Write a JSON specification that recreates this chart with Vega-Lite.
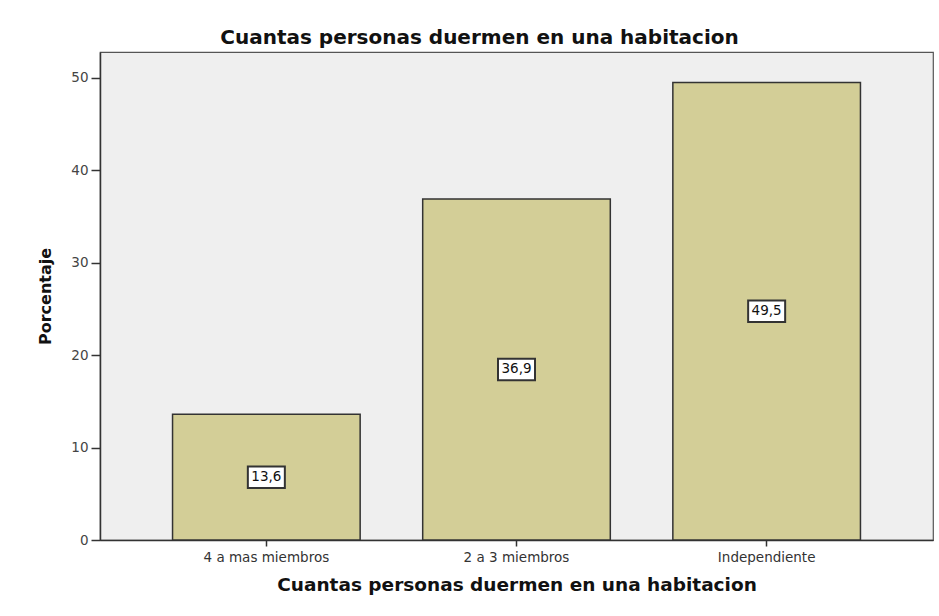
{
  "$schema": "https://vega.github.io/schema/vega-lite/v6.json",
  "width": 833,
  "height": 488,
  "autosize": {"type": "none"},
  "padding": {"left": 100, "top": 52, "right": 6, "bottom": 76},
  "background": "white",
  "title": {
    "text": "Cuantas personas duermen en una habitacion",
    "font": "DejaVu Sans",
    "fontSize": 20,
    "fontWeight": "bold",
    "color": "#111111",
    "anchor": "middle",
    "frame": "group",
    "dx": -37,
    "offset": 4
  },
  "data": {
    "values": [
      {"categoria": "4 a mas miembros", "porcentaje": 13.6},
      {"categoria": "2 a 3 miembros", "porcentaje": 36.9},
      {"categoria": "Independiente", "porcentaje": 49.5}
    ]
  },
  "encoding": {
    "x": {
      "field": "categoria",
      "type": "nominal",
      "sort": null,
      "scale": {"paddingInner": 0.25, "paddingOuter": 0.29},
      "axis": {
        "title": "Cuantas personas duermen en una habitacion",
        "titleFont": "DejaVu Sans",
        "titleFontSize": 18.5,
        "titleFontWeight": "bold",
        "titleColor": "#111111",
        "titlePadding": 12,
        "labelAngle": 0,
        "labelFont": "DejaVu Sans",
        "labelFontSize": 13.5,
        "labelColor": "#333333",
        "labelPadding": 4,
        "tickSize": 6,
        "tickColor": "#333333",
        "tickWidth": 1.5,
        "domainColor": "#333333",
        "domainWidth": 1.5
      }
    }
  },
  "layer": [
    {
      "mark": {"type": "bar", "fill": "#d3ce97", "stroke": "#333333", "strokeWidth": 1.5},
      "encoding": {
        "y": {
          "field": "porcentaje",
          "type": "quantitative",
          "scale": {"domain": [0, 52.8], "nice": false},
          "axis": {
            "title": "Porcentaje",
            "titleFont": "DejaVu Sans",
            "titleFontSize": 16,
            "titleFontWeight": "bold",
            "titleColor": "#111111",
            "titlePadding": 17,
            "values": [0, 10, 20, 30, 40, 50],
            "grid": false,
            "labelFont": "DejaVu Sans",
            "labelFontSize": 13.5,
            "labelColor": "#444444",
            "labelPadding": 3,
            "tickSize": 9,
            "tickColor": "#333333",
            "tickWidth": 1.5,
            "domainColor": "#333333",
            "domainWidth": 1.5
          }
        }
      }
    },
    {
      "transform": [{"calculate": "datum.porcentaje / 2", "as": "medio"}],
      "mark": {
        "type": "point",
        "shape": "M-1,-0.58H1V0.58H-1Z",
        "size": 1369,
        "filled": true,
        "fill": "white",
        "stroke": "#333333",
        "strokeWidth": 2,
        "opacity": 1
      },
      "encoding": {
        "y": {"field": "medio", "type": "quantitative"}
      }
    },
    {
      "transform": [{"calculate": "datum.porcentaje / 2", "as": "medio"}],
      "mark": {
        "type": "text",
        "font": "DejaVu Sans",
        "fontSize": 13.5,
        "color": "#111111",
        "baseline": "middle",
        "align": "center"
      },
      "encoding": {
        "y": {"field": "medio", "type": "quantitative"},
        "text": {"field": "porcentaje", "type": "quantitative", "format": ".1f"}
      }
    }
  ],
  "config": {
    "locale": {
      "number": {"decimal": ",", "thousands": ".", "grouping": [3], "currency": ["", " €"]}
    },
    "view": {"fill": "#efefef", "stroke": "#555555", "strokeWidth": 1.2}
  }
}
